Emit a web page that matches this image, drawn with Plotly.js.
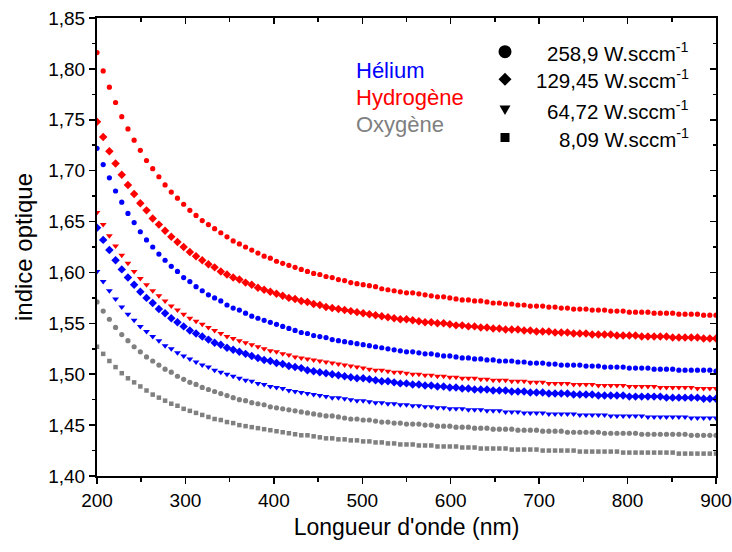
<!DOCTYPE html>
<html>
<head>
<meta charset="utf-8">
<script src="https://cdn.plot.ly/plotly-3.0.1.min.js"></script>
<style>html,body{margin:0;padding:0;background:#fff;}#chart{width:732px;height:552px;}</style>
</head>
<body>
<div id="chart"></div>
<script>
// wavelength (nm)
const wavelength = [200,207,214,221,228,235,242,249,256,263,270,277,284,291,298,305,312,319,326,333,340,347,354,361,368,375,382,389,396,403,410,417,424,431,438,445,452,459,466,473,480,487,494,501,508,515,522,529,536,543,550,557,564,571,578,585,592,599,606,613,620,627,634,641,648,655,662,669,676,683,690,697,704,711,718,725,732,739,746,753,760,767,774,781,788,795,802,809,816,823,830,837,844,851,858,865,872,879,886,893,900];

// Hydrogène
const h2_258 = [1.816,1.798,1.782,1.767,1.753,1.741,1.730,1.720,1.710,1.702,1.694,1.686,1.679,1.673,1.667,1.661,1.656,1.651,1.647,1.643,1.639,1.635,1.631,1.628,1.625,1.622,1.619,1.616,1.614,1.611,1.609,1.607,1.605,1.603,1.601,1.599,1.598,1.596,1.595,1.593,1.592,1.590,1.589,1.588,1.587,1.586,1.584,1.583,1.582,1.581,1.580,1.580,1.579,1.578,1.577,1.576,1.576,1.575,1.574,1.573,1.573,1.572,1.572,1.571,1.570,1.570,1.569,1.569,1.568,1.568,1.567,1.567,1.567,1.566,1.566,1.565,1.565,1.564,1.564,1.564,1.563,1.563,1.563,1.562,1.562,1.562,1.561,1.561,1.561,1.561,1.560,1.560,1.560,1.560,1.559,1.559,1.559,1.559,1.558,1.558,1.558];
const h2_129 = [1.748,1.733,1.719,1.707,1.696,1.686,1.677,1.668,1.661,1.653,1.647,1.641,1.635,1.630,1.625,1.620,1.616,1.612,1.608,1.605,1.601,1.598,1.595,1.593,1.590,1.588,1.585,1.583,1.581,1.579,1.577,1.575,1.574,1.572,1.571,1.569,1.568,1.566,1.565,1.564,1.563,1.562,1.561,1.560,1.559,1.558,1.557,1.556,1.555,1.554,1.554,1.553,1.552,1.551,1.551,1.550,1.550,1.549,1.548,1.548,1.547,1.547,1.546,1.546,1.545,1.545,1.544,1.544,1.544,1.543,1.543,1.542,1.542,1.542,1.541,1.541,1.541,1.540,1.540,1.540,1.539,1.539,1.539,1.539,1.538,1.538,1.538,1.538,1.537,1.537,1.537,1.537,1.537,1.536,1.536,1.536,1.536,1.536,1.535,1.535,1.535];
const h2_64 = [1.659,1.647,1.636,1.626,1.617,1.609,1.601,1.594,1.588,1.582,1.577,1.572,1.567,1.563,1.559,1.555,1.552,1.549,1.546,1.543,1.540,1.537,1.535,1.533,1.531,1.529,1.527,1.525,1.523,1.522,1.520,1.519,1.517,1.516,1.515,1.514,1.513,1.512,1.511,1.510,1.509,1.508,1.507,1.506,1.505,1.504,1.504,1.503,1.502,1.502,1.501,1.500,1.500,1.499,1.499,1.498,1.498,1.497,1.497,1.496,1.496,1.496,1.495,1.495,1.494,1.494,1.494,1.493,1.493,1.493,1.492,1.492,1.492,1.491,1.491,1.491,1.491,1.490,1.490,1.490,1.490,1.489,1.489,1.489,1.489,1.489,1.488,1.488,1.488,1.488,1.488,1.487,1.487,1.487,1.487,1.487,1.487,1.486,1.486,1.486,1.486];

// Hélium
const he_258 = [1.722,1.706,1.693,1.680,1.669,1.658,1.649,1.640,1.632,1.625,1.618,1.612,1.606,1.601,1.595,1.591,1.586,1.582,1.578,1.575,1.572,1.568,1.565,1.563,1.560,1.557,1.555,1.553,1.551,1.549,1.547,1.545,1.543,1.541,1.540,1.538,1.537,1.536,1.534,1.533,1.532,1.531,1.530,1.529,1.528,1.527,1.526,1.525,1.524,1.523,1.522,1.522,1.521,1.520,1.520,1.519,1.518,1.518,1.517,1.516,1.516,1.515,1.515,1.514,1.514,1.513,1.513,1.513,1.512,1.512,1.511,1.511,1.511,1.510,1.510,1.509,1.509,1.509,1.509,1.508,1.508,1.508,1.507,1.507,1.507,1.507,1.506,1.506,1.506,1.506,1.505,1.505,1.505,1.505,1.504,1.504,1.504,1.504,1.504,1.504,1.503];
const he_129 = [1.644,1.632,1.622,1.612,1.603,1.595,1.588,1.581,1.575,1.570,1.564,1.560,1.555,1.551,1.547,1.543,1.540,1.537,1.534,1.531,1.529,1.526,1.524,1.522,1.520,1.518,1.516,1.514,1.513,1.511,1.510,1.508,1.507,1.506,1.504,1.503,1.502,1.501,1.500,1.499,1.498,1.497,1.496,1.496,1.495,1.494,1.493,1.493,1.492,1.491,1.491,1.490,1.490,1.489,1.489,1.488,1.488,1.487,1.487,1.486,1.486,1.485,1.485,1.485,1.484,1.484,1.484,1.483,1.483,1.483,1.482,1.482,1.482,1.481,1.481,1.481,1.481,1.480,1.480,1.480,1.480,1.479,1.479,1.479,1.479,1.479,1.478,1.478,1.478,1.478,1.478,1.478,1.477,1.477,1.477,1.477,1.477,1.477,1.476,1.476,1.476];
const he_64 = [1.601,1.591,1.582,1.574,1.566,1.559,1.553,1.547,1.542,1.537,1.533,1.528,1.525,1.521,1.518,1.515,1.512,1.509,1.507,1.504,1.502,1.500,1.498,1.496,1.494,1.493,1.491,1.490,1.488,1.487,1.486,1.484,1.483,1.482,1.481,1.480,1.479,1.478,1.477,1.477,1.476,1.475,1.474,1.474,1.473,1.472,1.472,1.471,1.471,1.470,1.470,1.469,1.469,1.468,1.468,1.467,1.467,1.466,1.466,1.466,1.465,1.465,1.465,1.464,1.464,1.464,1.463,1.463,1.463,1.462,1.462,1.462,1.462,1.461,1.461,1.461,1.461,1.461,1.460,1.460,1.460,1.460,1.460,1.459,1.459,1.459,1.459,1.459,1.459,1.458,1.458,1.458,1.458,1.458,1.458,1.458,1.457,1.457,1.457,1.457,1.457];

// Oxygène
const o2_258 = [1.571,1.562,1.554,1.546,1.539,1.533,1.527,1.522,1.517,1.513,1.509,1.505,1.502,1.498,1.495,1.492,1.490,1.487,1.485,1.483,1.481,1.479,1.477,1.475,1.474,1.472,1.471,1.470,1.468,1.467,1.466,1.465,1.464,1.463,1.462,1.461,1.460,1.459,1.459,1.458,1.457,1.456,1.456,1.455,1.455,1.454,1.453,1.453,1.452,1.452,1.451,1.451,1.451,1.450,1.450,1.449,1.449,1.449,1.448,1.448,1.448,1.447,1.447,1.447,1.446,1.446,1.446,1.446,1.445,1.445,1.445,1.445,1.444,1.444,1.444,1.444,1.443,1.443,1.443,1.443,1.443,1.443,1.442,1.442,1.442,1.442,1.442,1.442,1.441,1.441,1.441,1.441,1.441,1.441,1.441,1.441,1.440,1.440,1.440,1.440,1.440];
const o2_8 = [1.527,1.520,1.513,1.507,1.501,1.496,1.492,1.488,1.484,1.480,1.477,1.474,1.471,1.469,1.466,1.464,1.462,1.460,1.458,1.456,1.455,1.453,1.452,1.450,1.449,1.448,1.447,1.446,1.445,1.444,1.443,1.442,1.441,1.440,1.440,1.439,1.438,1.437,1.437,1.436,1.436,1.435,1.435,1.434,1.434,1.433,1.433,1.432,1.432,1.431,1.431,1.431,1.430,1.430,1.430,1.429,1.429,1.429,1.429,1.428,1.428,1.428,1.427,1.427,1.427,1.427,1.427,1.426,1.426,1.426,1.426,1.426,1.425,1.425,1.425,1.425,1.425,1.425,1.424,1.424,1.424,1.424,1.424,1.424,1.424,1.423,1.423,1.423,1.423,1.423,1.423,1.423,1.423,1.423,1.422,1.422,1.422,1.422,1.422,1.422,1.422];

const gasLabels = ["Hélium", "Hydrogène", "Oxygène"];
const gasColors = ["#0000FF", "#FF0000", "#808080"];
const powerLabels = ["258,9 W.sccm<sup>-1</sup>", "129,45 W.sccm<sup>-1</sup>", "64,72 W.sccm<sup>-1</sup>", "8,09 W.sccm<sup>-1</sup>"];

const FONT = 'Arial, "Liberation Sans", sans-serif';
const RED = gasColors[1], BLUE = gasColors[0], GREY = gasColors[2];

function series(y, color, symbol, size) {
  return {
    x: wavelength, y: y, type: 'scatter', mode: 'markers',
    marker: {color: color, symbol: symbol, size: size, line: {width: 0}},
    showlegend: false, hoverinfo: 'skip', cliponaxis: true
  };
}

const data = [
  series(o2_8, GREY, 'square', 4.5),
  series(o2_258, GREY, 'circle', 5.2),
  series(he_64, BLUE, 'triangle-down', 6),
  series(he_129, BLUE, 'diamond', 6.5),
  series(h2_64, RED, 'triangle-down', 6),
  series(he_258, BLUE, 'circle', 5.2),
  series(h2_129, RED, 'diamond', 6.5),
  series(h2_258, RED, 'circle', 5.2),
  {x: [], y: [], xaxis: 'x2', yaxis: 'y2', type: 'scatter', mode: 'markers', showlegend: false, hoverinfo: 'skip'}
];

// plot area in pixels: left 97, right 716, top 18, bottom 476
const L = 97, R = 716, T = 18, B = 476;
const px = v => (v - L) / (R - L);
const py = v => (B - v) / (B - T);

const annotations = [];
const gasY = [70, 97, 124];
gasLabels.forEach((g, i) => annotations.push({
  text: g, xref: 'paper', yref: 'paper', x: px(354), y: py(gasY[i]),
  xanchor: 'left', yanchor: 'middle', showarrow: false,
  font: {family: FONT, size: 22, color: gasColors[i]}
}));
const rowY = [51.7, 79.3, 110, 137.5];
powerLabels.forEach((p, i) => annotations.push({
  text: p, xref: 'paper', yref: 'paper', x: px(691), y: py(rowY[i]),
  xanchor: 'right', yanchor: 'middle', showarrow: false,
  font: {family: FONT, size: 20.5, color: '#000'}
}));

const symX = px(505);
const shapes = [
  {type: 'circle', xref: 'paper', yref: 'paper', xsizemode: 'pixel', ysizemode: 'pixel',
   xanchor: symX, yanchor: py(rowY[0]), x0: -6.5, x1: 6.5, y0: -6.5, y1: 6.5,
   fillcolor: '#000', line: {width: 0}},
  {type: 'path', xref: 'paper', yref: 'paper', xsizemode: 'pixel', ysizemode: 'pixel',
   xanchor: symX, yanchor: py(rowY[1]), path: 'M -6.5 0 L 0 6.5 L 6.5 0 L 0 -6.5 Z',
   fillcolor: '#000', line: {width: 0}},
  {type: 'path', xref: 'paper', yref: 'paper', xsizemode: 'pixel', ysizemode: 'pixel',
   xanchor: symX, yanchor: py(rowY[2]), path: 'M -5.5 4.5 L 5.5 4.5 L 0 -5 Z',
   fillcolor: '#000', line: {width: 0}},
  {type: 'path', xref: 'paper', yref: 'paper', xsizemode: 'pixel', ysizemode: 'pixel',
   xanchor: symX, yanchor: py(rowY[3]), path: 'M -4.5 -4.5 L 4.5 -4.5 L 4.5 4.5 L -4.5 4.5 Z',
   fillcolor: '#000', line: {width: 0}}
];

const tickFont = {family: FONT, size: 19, color: '#000'};

const layout = {
  width: 732, height: 552,
  margin: {l: L, r: 732 - R, t: T, b: 552 - B, pad: 0},
  paper_bgcolor: '#fff', plot_bgcolor: '#fff',
  separators: ', ',
  showlegend: false,
  xaxis: {
    range: [200, 900], dtick: 100, tick0: 200, ticks: 'outside', ticklen: 6, tickwidth: 1.5, tickcolor: '#000',
    minor: {dtick: 50, tick0: 200, ticks: 'outside', ticklen: 3.5, tickwidth: 1.5, tickcolor: '#000', showgrid: false},
    showline: true, linecolor: '#000', linewidth: 2, mirror: true,
    showgrid: false, zeroline: false, tickfont: tickFont,
    title: {text: "Longueur d'onde (nm)", font: {family: FONT, size: 23, color: '#000'}, standoff: 9}
  },
  yaxis: {
    range: [1.40, 1.85], dtick: 0.05, tick0: 1.40, tickformat: '.2f', ticks: 'outside', ticklen: 6, tickwidth: 1.5, tickcolor: '#000',
    minor: {dtick: 0.025, tick0: 1.40, ticks: 'outside', ticklen: 3.5, tickwidth: 1.5, tickcolor: '#000', showgrid: false},
    showline: true, linecolor: '#000', linewidth: 2, mirror: true,
    showgrid: false, zeroline: false, tickfont: tickFont,
    title: {text: 'indice optique', font: {family: FONT, size: 24, color: '#000'}, standoff: 9}
  },
  xaxis2: {
    overlaying: 'x', side: 'top', anchor: 'y2', range: [200, 900], dtick: 100, tick0: 200,
    ticks: 'inside', ticklen: 6, tickwidth: 1.5, tickcolor: '#000', showticklabels: false,
    minor: {dtick: 50, tick0: 200, ticks: 'inside', ticklen: 3.5, tickwidth: 1.5, tickcolor: '#000', showgrid: false},
    showline: false, showgrid: false, zeroline: false
  },
  yaxis2: {
    overlaying: 'y', side: 'right', anchor: 'x2', range: [1.40, 1.85], dtick: 0.05, tick0: 1.40,
    ticks: 'inside', ticklen: 6, tickwidth: 1.5, tickcolor: '#000', showticklabels: false,
    minor: {dtick: 0.025, tick0: 1.40, ticks: 'inside', ticklen: 3.5, tickwidth: 1.5, tickcolor: '#000', showgrid: false},
    showline: false, showgrid: false, zeroline: false
  },
  annotations: annotations,
  shapes: shapes
};

Plotly.newPlot('chart', data, layout, {staticPlot: true, displayModeBar: false});
</script>
</body>
</html>
